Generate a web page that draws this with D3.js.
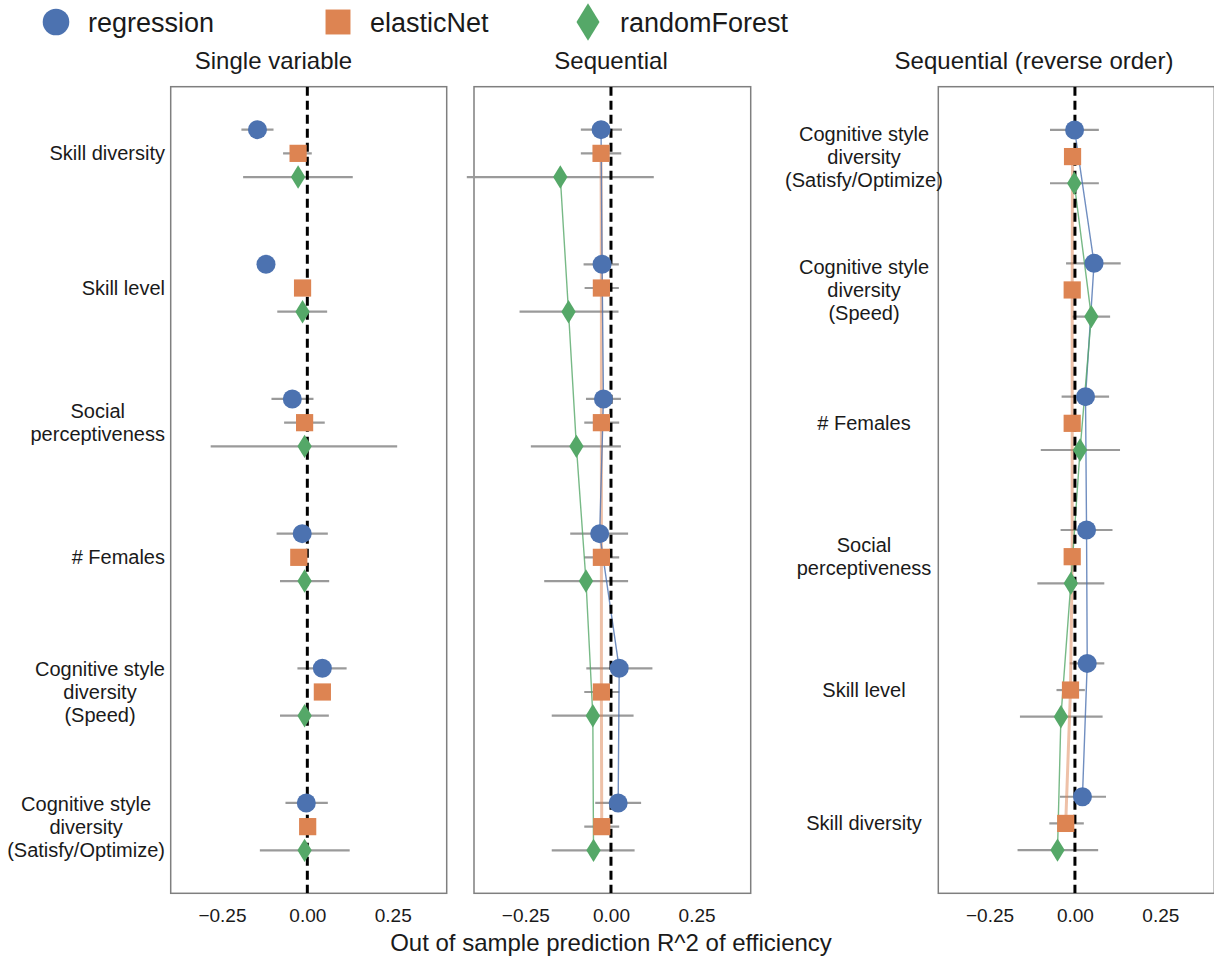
<!DOCTYPE html>
<html>
<head>
<meta charset="utf-8">
<script src="https://cdn.jsdelivr.net/npm/d3@7"></script>
<style>
  body { margin: 0; background: #fff; }
  text { font-family: "Liberation Sans", Arial, Helvetica, sans-serif; fill: #1a1a1a; }
</style>
</head>
<body>
<svg id="chart" width="1214" height="961"></svg>
<script>
// series and variables
const series = ['regression', 'elasticNet', 'randomForest'];
const colors = ['#4C72B0', '#DD8452', '#55A868'];

const varsForward = ['Skill diversity', 'Skill level', 'Social\nperceptiveness', '# Females',
  'Cognitive style\ndiversity\n(Speed)', 'Cognitive style\ndiversity\n(Satisfy/Optimize)'];
const varsReverse = ['Cognitive style\ndiversity\n(Satisfy/Optimize)', 'Cognitive style\ndiversity\n(Speed)',
  '# Females', 'Social\nperceptiveness', 'Skill level', 'Skill diversity'];

const xTicks = [-0.25, 0, 0.25];

// panel 1: single variable
const singleReg = [-0.146, -0.121, -0.044, -0.015, 0.044, -0.003];
const singleRegLo = [-0.193, -0.141, -0.105, -0.090, -0.029, -0.064];
const singleRegHi = [-0.099, -0.101, 0.018, 0.060, 0.115, 0.060];
const singleEnet = [-0.027, -0.014, -0.008, -0.025, 0.044, 0.001];
const singleEnetLo = [-0.071, -0.032, -0.068, -0.043, 0.027, -0.016];
const singleEnetHi = [0.013, 0.004, 0.051, -0.007, 0.061, 0.018];
const singleRf = [-0.027, -0.014, -0.008, -0.008, -0.008, -0.008];
const singleRfLo = [-0.188, -0.088, -0.283, -0.080, -0.080, -0.139];
const singleRfHi = [0.133, 0.058, 0.263, 0.064, 0.063, 0.124];

// panel 2: sequential
const seqReg = [-0.029, -0.026, -0.022, -0.033, 0.024, 0.021];
const seqRegLo = [-0.088, -0.080, -0.073, -0.119, -0.072, -0.046];
const seqRegHi = [0.032, 0.023, 0.029, 0.050, 0.121, 0.088];
const seqEnet = [-0.029, -0.028, -0.028, -0.028, -0.028, -0.027];
const seqEnetLo = [-0.088, -0.077, -0.078, -0.078, -0.078, -0.078];
const seqEnetHi = [0.030, 0.023, 0.024, 0.024, 0.024, 0.024];
const seqRf = [-0.148, -0.124, -0.101, -0.073, -0.053, -0.051];
const seqRfLo = [-0.421, -0.267, -0.234, -0.195, -0.173, -0.173];
const seqRfHi = [0.125, 0.022, 0.029, 0.050, 0.066, 0.069];

// panel 3: sequential, reverse order
const revReg = [-0.001, 0.056, 0.031, 0.034, 0.036, 0.022];
const revRegLo = [-0.073, -0.026, -0.039, -0.042, -0.015, -0.044];
const revRegHi = [0.070, 0.134, 0.100, 0.110, 0.086, 0.091];
const revEnet = [-0.007, -0.008, -0.008, -0.008, -0.013, -0.027];
const revEnetLo = [-0.025, -0.025, -0.025, -0.025, -0.054, -0.075];
const revEnetHi = [0.011, 0.009, 0.009, 0.009, 0.029, 0.026];
const revRf = [-0.002, 0.048, 0.015, -0.012, -0.041, -0.051];
const revRfLo = [-0.073, -0.007, -0.100, -0.110, -0.161, -0.168];
const revRfHi = [0.070, 0.103, 0.132, 0.086, 0.081, 0.068];

const svg = d3.select('#chart');
const plotTop = 86.7, plotBottom = 893.3;

// labelAlign: 'right' = block ends at labelX, lines centred in it; 'center' = lines centred on labelX
const panels = [
  { title: 'Single variable', titleX: 273.5, x0: 170.7, x1: 446.7, vars: varsForward, labels: true,
    labelAlign: 'right', labelX: 165, join: false, pad: 0.495, dodge: 0.176,
    mean: [singleReg, singleEnet, singleRf], lo: [singleRegLo, singleEnetLo, singleRfLo], hi: [singleRegHi, singleEnetHi, singleRfHi] },
  { title: 'Sequential', titleX: 611, x0: 474, x1: 750.7, vars: varsForward, labels: false,
    join: true, pad: 0.495, dodge: 0.176,
    mean: [seqReg, seqEnet, seqRf], lo: [seqRegLo, seqEnetLo, seqRfLo], hi: [seqRegHi, seqEnetHi, seqRfHi] },
  { title: 'Sequential (reverse order)', titleX: 1034, x0: 938.3, x1: 1214.3, vars: varsReverse, labels: true,
    labelAlign: 'center', labelX: 864, join: true, pad: 0.524, dodge: 0.2,
    mean: [revReg, revEnet, revRf], lo: [revRegLo, revEnetLo, revRfLo], hi: [revRegHi, revEnetHi, revRfHi] }
];

function marker(g, k, x, y, s) {
  if (k === 0) {
    g.append('circle').attr('cx', x).attr('cy', y).attr('r', 9.5 * s).attr('fill', colors[0]);
  } else if (k === 1) {
    g.append('rect').attr('x', x - 8.6 * s).attr('y', y - 8.6 * s)
      .attr('width', 17.2 * s).attr('height', 17.2 * s).attr('fill', colors[1]);
  } else {
    g.append('path')
      .attr('d', `M${x},${y - 11.7 * s}L${x + 7.2 * s},${y}L${x},${y + 11.7 * s}L${x - 7.2 * s},${y}Z`)
      .attr('fill', colors[2]);
  }
}

panels.forEach((p, pi) => {
  const x = d3.scaleLinear().domain([-0.40, 0.408]).range([p.x0, p.x1]);
  const y = d3.scalePoint().domain(p.vars).range([plotTop, plotBottom]).padding(p.pad);
  const off = k => (k - 1) * p.dodge * y.step();
  const g = svg.append('g');

  // frame
  g.append('rect').attr('x', p.x0).attr('y', plotTop).attr('width', p.x1 - p.x0).attr('height', plotBottom - plotTop)
    .attr('fill', 'none').attr('stroke', '#7f7f7f').attr('stroke-width', 1.5);

  // x axis tick labels
  const ax = g.append('g').attr('transform', `translate(0,${plotBottom})`)
    .call(d3.axisBottom(x).tickValues(xTicks).tickSize(0).tickPadding(15)
      .tickFormat(d => d3.format('.2f')(d).replace('-', '\u2212')));
  ax.select('.domain').remove();
  ax.selectAll('text').attr('font-size', 19).attr('fill', '#1a1a1a')
    .style('font-family', '"Liberation Sans", Arial, sans-serif');

  // title
  svg.append('text').attr('x', p.titleX).attr('y', 69).attr('text-anchor', 'middle')
    .attr('font-size', 24).text(p.title);

  // clip for marks
  const clipId = 'clip' + pi;
  svg.append('clipPath').attr('id', clipId).append('rect')
    .attr('x', p.x0 - 10).attr('y', plotTop).attr('width', p.x1 - p.x0 + 10).attr('height', plotBottom - plotTop);
  const marks = g.append('g').attr('clip-path', `url(#${clipId})`);

  // error bars
  series.forEach((s, k) => {
    p.vars.forEach((v, i) => {
      marks.append('line')
        .attr('x1', x(p.lo[k][i])).attr('x2', x(p.hi[k][i]))
        .attr('y1', y(v) + off(k)).attr('y2', y(v) + off(k))
        .attr('stroke', '#9a9a9a').attr('stroke-width', 2.2);
    });
  });

  // joins (elasticNet first, it is the wide pale one)
  if (p.join) {
    const line = d3.line().x(d => x(d[0])).y(d => d[1]);
    [1, 0, 2].forEach(k => {
      const pts = p.vars.map((v, i) => [p.mean[k][i], y(v) + off(k)]);
      marks.append('path').attr('d', line(pts)).attr('fill', 'none')
        .attr('stroke', colors[k])
        .attr('stroke-width', k === 1 ? 3 : 1.4)
        .attr('stroke-opacity', k === 1 ? 0.5 : 0.8);
    });
  }

  // zero reference
  marks.append('line').attr('x1', x(0)).attr('x2', x(0)).attr('y1', plotTop).attr('y2', plotBottom)
    .attr('stroke', '#000').attr('stroke-width', 3).attr('stroke-dasharray', '9,5');

  // markers
  series.forEach((s, k) => {
    p.vars.forEach((v, i) => marker(marks, k, x(p.mean[k][i]), y(v) + off(k), 1));
  });

  // y labels
  if (p.labels) {
    p.vars.forEach(v => {
      const lines = v.split('\n');
      const t = svg.append('text').attr('font-size', 20).attr('text-anchor', 'middle');
      const n = lines.length, lh = 23;
      lines.forEach((ln, j) => {
        t.append('tspan').attr('x', 0).attr('y', y(v) + (j - (n - 1) / 2) * lh + 7).text(ln);
      });
      const w = t.node().getBBox().width;
      const cx = p.labelAlign === 'right' ? p.labelX - w / 2 : p.labelX;
      t.selectAll('tspan').attr('x', cx);
    });
  }
});

// legend
const legendX = [56, 338, 588];
const legendTextX = [88, 370, 620];
const lg = svg.append('g');
series.forEach((s, k) => {
  marker(lg, k, legendX[k], 22, k === 0 ? 1.4 : (k === 1 ? 1.45 : 1.6));
  lg.append('text').attr('x', legendTextX[k]).attr('y', 32).attr('font-size', 27).text(s);
});

// x axis title
svg.append('text').attr('x', 611).attr('y', 951).attr('text-anchor', 'middle')
  .attr('font-size', 24).text('Out of sample prediction R^2 of efficiency');
</script>
</body>
</html>
